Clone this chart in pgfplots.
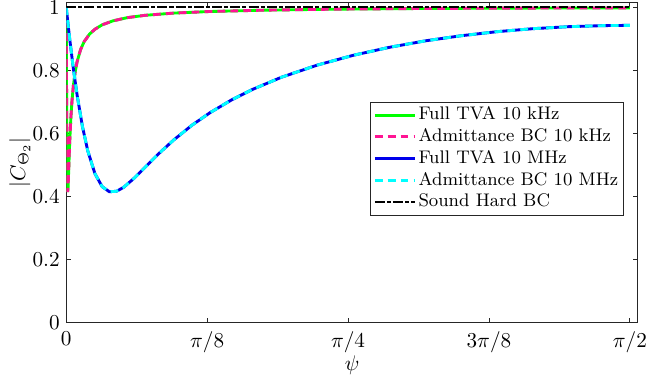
\documentclass[border=0pt]{standalone}
\usepackage{pgfplots}
\pgfplotsset{compat=1.18}
\usepackage{pgfplotstable}

\definecolor{cgreen}{RGB}{0,255,0}
\definecolor{cpink}{RGB}{255,20,147}
\definecolor{cblue}{RGB}{0,0,235}
\definecolor{ccyan}{RGB}{0,255,255}
\definecolor{axgray}{RGB}{38,38,38}

\pgfplotstableread{
x y
0 1
0.0005 0.8413
0.001 0.7116
0.0015 0.6090
0.002 0.5312
0.003 0.4401
0.004 0.4143
0.005 0.4263
0.0065 0.4716
0.008 0.5221
0.010 0.5821
0.013 0.6521
0.016 0.7035
0.020 0.7530
0.025 0.7960
0.030 0.8264
0.040 0.8664
0.050 0.8915
0.065 0.9153
0.080 0.9306
0.100 0.9445
0.130 0.9571
0.170 0.9673
0.220 0.9748
0.300 0.9818
0.400 0.9868
0.550 0.9910
0.750 0.9942
1.000 0.9964
1.250 0.9976
1.5708 0.9981
}\tenk

\pgfplotstableread{
x y
0 1
0.005 0.9466
0.01 0.8961
0.02 0.8042
0.03 0.7237
0.045 0.6229
0.06 0.5449
0.08 0.4725
0.10 0.4317
0.12 0.4154
0.14 0.4168
0.16 0.4294
0.19 0.4590
0.22 0.4930
0.26 0.5385
0.30 0.5800
0.35 0.6260
0.40 0.6655
0.46 0.7060
0.52 0.7402
0.60 0.7785
0.70 0.8170
0.80 0.8480
0.90 0.8731
1.00 0.8936
1.10 0.9099
1.20 0.9228
1.30 0.9323
1.40 0.9387
1.50 0.9421
1.5708 0.9429
}\tenM

\pgfplotstableread{
x y
0 1
1.5708 1
}\hard

\begin{document}
\begin{tikzpicture}
\begin{axis}[
  scale only axis,
  width=269.6pt, height=151.3pt,
  xmin=0, xmax=1.593,
  ymin=0, ymax=1.017,
  xtick={0,0.392699,0.785398,1.178097,1.570796},
  xticklabels={$0$,$\pi/8$,$\pi/4$,$3\pi/8$,$\pi/2$},
  ytick={0,0.2,0.4,0.6,0.8,1},
  yticklabels={0,0.2,0.4,0.6,0.8,1},
  /pgf/number format/assume math mode=true,
  tick align=inside,
  major tick length=2.3pt,
  axis line style={axgray, line width=0.35pt},
  tick style={axgray, line width=0.35pt},
  xticklabel style={yshift=-0.8pt},
  yticklabel style={xshift=0.4pt},
  xlabel={$\psi$},
  ylabel={$|C_{\Theta_2}|$},
  xlabel style={at={(axis description cs:0.5,0)}, anchor=north, yshift=-12.2pt},
  ylabel style={at={(axis description cs:-0.0812,0.5)}, anchor=center},
  legend cell align=left,
  legend style={at={(0.976,0.689)}, anchor=north east, draw=axgray, line width=0.35pt, fill=white,
    font=\fontsize{8.6}{10.5}\selectfont, row sep=0pt, inner xsep=1.4pt, inner ysep=1pt,
    nodes={inner xsep=1.2pt, inner ysep=0.83pt, text height=6.6pt, text depth=2pt}},
  legend image code/.code={\draw[#1] (0cm,0cm) -- (0.66cm,0cm);},
]
\addplot[cgreen, line width=1.35pt] table[x=x,y=y] {\tenk};
\addlegendentry{Full TVA 10 kHz}
\addplot[cpink, line width=1.35pt, dash pattern=on 3.7pt off 2.4pt] table[x=x,y=y] {\tenk};
\addlegendentry{Admittance BC 10 kHz}
\addplot[cblue, line width=1.35pt] table[x=x,y=y] {\tenM};
\addlegendentry{Full TVA 10 MHz}
\addplot[ccyan, line width=1.35pt, dash pattern=on 3.7pt off 2.4pt] table[x=x,y=y] {\tenM};
\addlegendentry{Admittance BC 10 MHz}
\addplot[black, line width=0.95pt, dash pattern=on 4.7pt off 1pt on 1.9pt off 1pt] table[x=x,y=y] {\hard};
\addlegendentry{Sound Hard BC}
\end{axis}
\pgfresetboundingbox
\path[use as bounding box] ([shift={(-31.25pt,-28.2pt)}]current axis.south west) rectangle ([shift={(4.8pt,0.93pt)}]current axis.north east);
\end{tikzpicture}
\end{document}
